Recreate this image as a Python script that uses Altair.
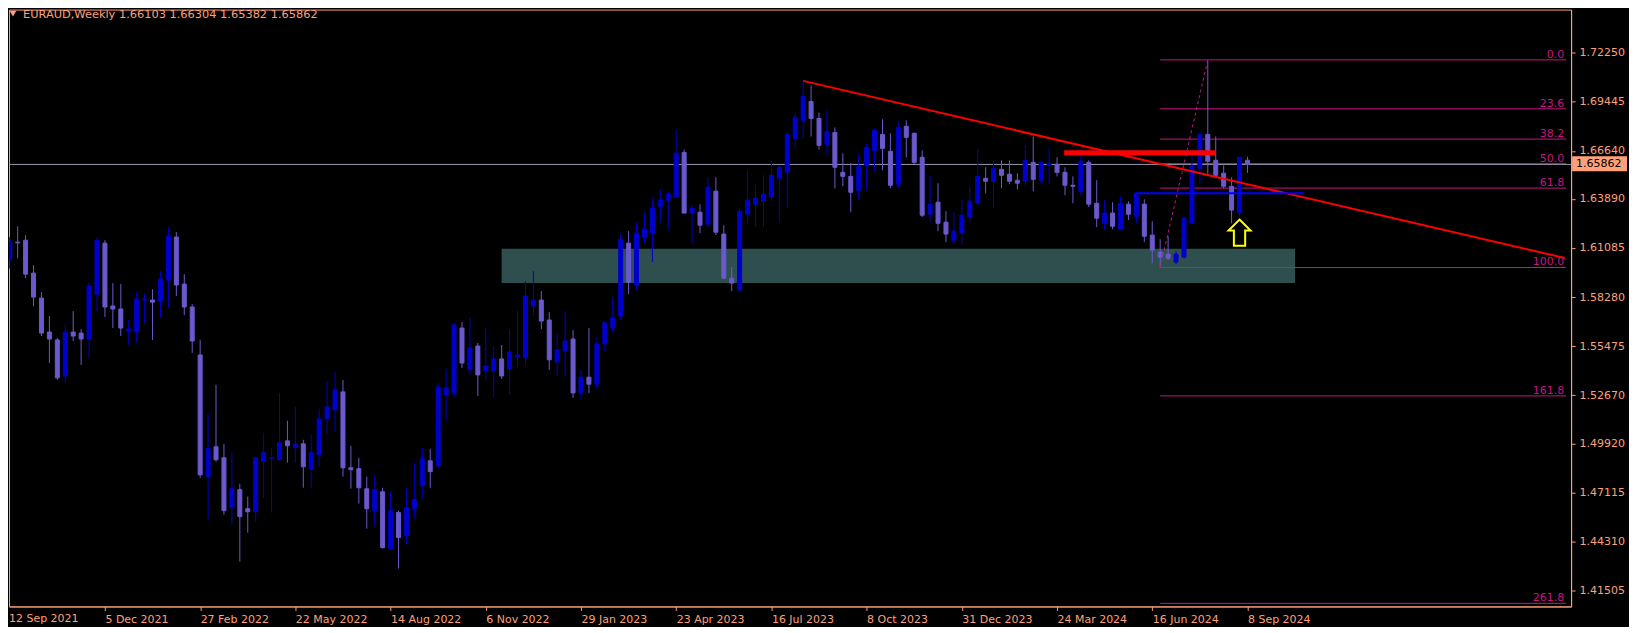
import altair as alt
import pandas as pd

base = pd.Timestamp("2021-09-12")
dates = pd.date_range(base, periods=157, freq="7D")

opens = [1.6046, 1.6142, 1.6153, 1.5965, 1.5822, 1.5628, 1.5583, 1.5377, 1.5628, 1.5622,
         1.5588, 1.5845, 1.6136, 1.5777, 1.5760, 1.5634, 1.5628, 1.5811, 1.5811, 1.5805,
         1.5925, 1.6171, 1.5902, 1.5771, 1.5497, 1.4801, 1.4972, 1.4909, 1.4624, 1.4727,
         1.4618, 1.4601, 1.4887, 1.4907, 1.4898, 1.5006, 1.4966, 1.4989, 1.4847, 1.4926,
         1.5132, 1.5183, 1.5286, 1.4852, 1.4847, 1.4732, 1.4607, 1.4715, 1.4390, 1.4596,
         1.4464, 1.4618, 1.4750, 1.4892, 1.4864, 1.5269, 1.5280, 1.5651, 1.5412, 1.5548,
         1.5406, 1.5406, 1.5474, 1.5417, 1.5486, 1.5480, 1.5777, 1.5811, 1.5697, 1.5457,
         1.5520, 1.5588, 1.5280, 1.5370, 1.5330, 1.5560, 1.5651, 1.5720, 1.6136, 1.5897,
         1.6171, 1.6193, 1.6347, 1.6382, 1.6399, 1.6655, 1.6308, 1.6313, 1.6245, 1.6433,
         1.6188, 1.5936, 1.5868, 1.6302, 1.6359, 1.6376, 1.6399, 1.6507, 1.6541, 1.6735,
         1.6838, 1.6946, 1.6849, 1.6701, 1.6769, 1.6541, 1.6518, 1.6439, 1.6581, 1.6667,
         1.6758, 1.6661, 1.6473, 1.6804, 1.6764, 1.6627, 1.6302, 1.6370, 1.6256, 1.6153,
         1.6193, 1.6285, 1.6364, 1.6507, 1.6490, 1.6558, 1.6530, 1.6496, 1.6490, 1.6598,
         1.6496, 1.6581, 1.6587, 1.6541, 1.6467, 1.6433, 1.6598, 1.6364, 1.6250, 1.6308,
         1.6216, 1.6359, 1.6290, 1.6359, 1.6182, 1.6085, 1.6073, 1.6028, 1.6056, 1.6250,
         1.6564, 1.6758, 1.6610, 1.6536, 1.6461, 1.6308, 1.66103]

highs = [1.6171, 1.6233, 1.6182, 1.6010, 1.5856, 1.5720, 1.5594, 1.5668, 1.5748, 1.5645,
         1.5913, 1.6171, 1.6153, 1.5908, 1.5902, 1.5697, 1.5856, 1.5851, 1.5873, 1.5976,
         1.6228, 1.6199, 1.5959, 1.5788, 1.5583, 1.5160, 1.5326, 1.4989, 1.4943, 1.4761,
         1.4687, 1.4915, 1.5052, 1.4966, 1.5280, 1.5121, 1.5200, 1.5012, 1.5041, 1.5189,
         1.5343, 1.5400, 1.5354, 1.4978, 1.4909, 1.4801, 1.4807, 1.4738, 1.4715, 1.4607,
         1.4738, 1.4881, 1.4966, 1.4961, 1.5337, 1.5417, 1.5685, 1.5685, 1.5708, 1.5566,
         1.5651, 1.5548, 1.5554, 1.5645, 1.5748, 1.5919, 1.5976, 1.5862, 1.5742, 1.5622,
         1.5748, 1.5640, 1.5410, 1.5651, 1.5600, 1.5691, 1.5828, 1.6188, 1.6205, 1.6256,
         1.6313, 1.6393, 1.6444, 1.6433, 1.6786, 1.6672, 1.6353, 1.6359, 1.6513, 1.6513,
         1.6239, 1.5999, 1.6336, 1.6553, 1.6467, 1.6524, 1.6604, 1.6581, 1.6769, 1.6883,
         1.7061, 1.7038, 1.6883, 1.6895, 1.6798, 1.6650, 1.6593, 1.6644, 1.6707, 1.6792,
         1.6844, 1.6764, 1.6832, 1.6838, 1.6769, 1.6667, 1.6518, 1.6479, 1.6319, 1.6313,
         1.6382, 1.6461, 1.6672, 1.6570, 1.6604, 1.6610, 1.6610, 1.6536, 1.6695, 1.6746,
         1.6610, 1.6678, 1.6627, 1.6570, 1.6518, 1.6672, 1.6610, 1.6496, 1.6382, 1.6370,
         1.6404, 1.6376, 1.6416, 1.6387, 1.6262, 1.6159, 1.6176, 1.6090, 1.6285, 1.6644,
         1.6769, 1.7180, 1.6746, 1.6581, 1.6513, 1.6627, 1.66304]

lows = [1.5991, 1.6050, 1.5936, 1.5777, 1.5605, 1.5451, 1.5355, 1.5337, 1.5577, 1.5440,
        1.5486, 1.5748, 1.5714, 1.5651, 1.5605, 1.5554, 1.5566, 1.5674, 1.5583, 1.5708,
        1.5771, 1.5834, 1.5725, 1.5509, 1.4795, 1.4556, 1.4887, 1.4584, 1.4527, 1.4316,
        1.4481, 1.4544, 1.4681, 1.4596, 1.4892, 1.4881, 1.4881, 1.4738, 1.4733, 1.4858,
        1.5041, 1.5058, 1.4801, 1.4733, 1.4647, 1.4504, 1.4521, 1.4390, 1.4390, 1.4276,
        1.4413, 1.4561, 1.4676, 1.4738, 1.4847, 1.5121, 1.5257, 1.5423, 1.5383, 1.5263,
        1.5355, 1.5252, 1.5360, 1.5269, 1.5429, 1.5440, 1.5720, 1.5645, 1.5412, 1.5377,
        1.5372, 1.5252, 1.5240, 1.5280, 1.5300, 1.5520, 1.5622, 1.5697, 1.5845, 1.5868,
        1.6136, 1.6028, 1.6256, 1.6216, 1.6399, 1.6308, 1.6131, 1.6193, 1.6222, 1.6182,
        1.5931, 1.5862, 1.5862, 1.6250, 1.6233, 1.6228, 1.6376, 1.6256, 1.6336, 1.6678,
        1.6735, 1.6746, 1.6672, 1.6644, 1.6450, 1.6461, 1.6313, 1.6387, 1.6439, 1.6547,
        1.6553, 1.6450, 1.6450, 1.6627, 1.6587, 1.6285, 1.6262, 1.6205, 1.6142, 1.6136,
        1.6125, 1.6256, 1.6347, 1.6421, 1.6342, 1.6450, 1.6473, 1.6444, 1.6467, 1.6433,
        1.6473, 1.6473, 1.6518, 1.6410, 1.6364, 1.6410, 1.6342, 1.6228, 1.6210, 1.6216,
        1.6210, 1.6268, 1.6250, 1.6142, 1.6022, 1.5999, 1.6039, 1.6016, 1.6050, 1.6250,
        1.6473, 1.6530, 1.6513, 1.6450, 1.6250, 1.6285, 1.65382]

closes = [1.6142, 1.6138, 1.5959, 1.5828, 1.5622, 1.5588, 1.5366, 1.5628, 1.5605, 1.5588,
          1.5891, 1.6153, 1.5771, 1.5760, 1.5651, 1.5645, 1.5817, 1.5817, 1.5799, 1.5931,
          1.6176, 1.5897, 1.5771, 1.5577, 1.4812, 1.4961, 1.4898, 1.4607, 1.4732, 1.4573,
          1.4601, 1.4909, 1.4938, 1.4909, 1.4995, 1.4978, 1.4989, 1.4858, 1.4938, 1.5132,
          1.5200, 1.5297, 1.4852, 1.4841, 1.4738, 1.4618, 1.4727, 1.4396, 1.4607, 1.4453,
          1.4624, 1.4670, 1.4904, 1.4830, 1.5314, 1.5309, 1.5668, 1.5451, 1.5537, 1.5383,
          1.5434, 1.5474, 1.5377, 1.5514, 1.5497, 1.5834, 1.5811, 1.5691, 1.5469, 1.5526,
          1.5577, 1.5280, 1.5370, 1.5330, 1.5560, 1.5680, 1.5708, 1.6159, 1.5913, 1.6193,
          1.6216, 1.6336, 1.6382, 1.6416, 1.6650, 1.6308, 1.6336, 1.6239, 1.6456, 1.6199,
          1.5936, 1.5908, 1.6319, 1.6382, 1.6393, 1.6416, 1.6524, 1.6570, 1.6758, 1.6855,
          1.6975, 1.6849, 1.6695, 1.6775, 1.6570, 1.6518, 1.6427, 1.6575, 1.6684, 1.6781,
          1.6678, 1.6467, 1.6798, 1.6741, 1.6598, 1.6296, 1.6359, 1.6250, 1.6188, 1.6205,
          1.6296, 1.6376, 1.6518, 1.6490, 1.6564, 1.6524, 1.6490, 1.6479, 1.6610, 1.6501,
          1.6598, 1.6593, 1.6541, 1.6467, 1.6461, 1.6604, 1.6359, 1.6279, 1.6308, 1.6233,
          1.6364, 1.6302, 1.6410, 1.6176, 1.6096, 1.6056, 1.6050, 1.6073, 1.6279, 1.6575,
          1.6758, 1.6604, 1.6524, 1.6461, 1.6325, 1.6627, 1.65862]

y_ticks = [1.72250, 1.69445, 1.66640, 1.63890, 1.61085, 1.58280,
           1.55475, 1.52670, 1.49920, 1.47115, 1.44310, 1.41505]
first_date_label = "12 Sep 2021"

fib_levels = ["0.0", "23.6", "38.2", "50.0", "61.8", "100.0", "161.8", "261.8"]
fib_prices = [1.7184, 1.6904, 1.6731, 1.6591, 1.6451, 1.5997, 1.5263, 1.4077]
fib_start_week = 145
fib_anchor_weeks = [145, 151]
fib_anchor_prices = [1.5997, 1.7184]

zone_weeks = [62, 162]
zone_prices = [1.6104, 1.5908]
trend_weeks = [100, 196]
trend_prices = [1.7064, 1.6051]
resist_weeks = [132.9, 151.9]
resist_price = 1.6653
support_weeks = [141.8, 163.1]
support_price = 1.6421
support_tick_low = 1.6395
arrow_week = 155
arrow_price = 1.6196
last_price = 1.65862
price_box = [1.6633, 1.6547]
title_text = "EURAUD,Weekly  1.66103 1.66304 1.65382 1.65862"

# ---------------------------------------------------------------
W, H = 1565, 598
SALMON = "#FFA07A"
FIB = "#C71585"
FONT = "DejaVu Sans"
UP, DOWN = "#0000CD", "#6A5ACD"


def wk(w):
    return base + pd.Timedelta(days=7 * w)


def dt(ts):
    return alt.DateTime(year=ts.year, month=ts.month, date=ts.day,
                        hours=ts.hour, minutes=ts.minute)


x_start = wk(0.5375)
x_end = wk(0.5375 + W / 8.0)
x_scale = alt.Scale(domain=[dt(x_start), dt(x_end)], nice=False)
y_scale = alt.Scale(domain=[1.40592, 1.74715], zero=False, nice=False)

tick_dates = pd.date_range(wk(12), periods=13, freq="84D")

x_axis = alt.Axis(values=[dt(t) for t in tick_dates], format="%-d %b %Y",
                  labelAlign="left", labelBaseline="top", labelPadding=3,
                  tickSize=4, labelFlush=False, labelOverlap=False,
                  grid=False, title=None)
y_axis = alt.Axis(orient="right", values=y_ticks, format=".5f", tickSize=4,
                  labelPadding=4, labelBaseline="middle", grid=False,
                  title=None, labelOverlap=False, labelFlush=False)

df = pd.DataFrame({"date": dates, "open": opens, "high": highs,
                   "low": lows, "close": closes})
df["dir"] = ["up" if c >= o else "down" for o, c in zip(opens, closes)]
dir_scale = alt.Scale(domain=["up", "down"], range=[UP, DOWN])

X = lambda f: alt.X(f, scale=x_scale, title=None)
Y = lambda f: alt.Y(f, scale=y_scale, title=None)

zone = alt.Chart(pd.DataFrame({"x1": [wk(zone_weeks[0])], "x2": [wk(zone_weeks[1])],
                               "y1": [zone_prices[0]], "y2": [zone_prices[1]]})
                 ).mark_rect(color="#2F4F4F", clip=True).encode(
    x=X("x1:T"), x2="x2:T", y=Y("y1:Q"), y2="y2:Q")

price_rule = alt.Chart(pd.DataFrame({"p": [last_price]})).mark_rule(
    color="#9A9AAE", strokeWidth=1).encode(y=Y("p:Q"))

fib_df = pd.DataFrame({"level": fib_levels, "price": fib_prices,
                       "x1": [wk(fib_start_week)] * len(fib_levels),
                       "x2": [x_end] * len(fib_levels)})
fib_rules = alt.Chart(fib_df).mark_rule(color=FIB, strokeWidth=1, clip=True).encode(
    x=X("x1:T"), x2="x2:T", y=Y("price:Q"))
fib_text = alt.Chart(fib_df).mark_text(
    align="right", baseline="alphabetic", dx=-2, dy=-2, color=FIB,
    font=FONT, fontSize=11).encode(x=X("x2:T"), y=Y("price:Q"), text="level:N")

wicks = alt.Chart(df).mark_rule(strokeWidth=1, clip=True).encode(
    x=alt.X("date:T", scale=x_scale, axis=x_axis, title=None),
    y=alt.Y("low:Q", scale=y_scale, axis=y_axis, title=None),
    y2="high:Q",
    color=alt.Color("dir:N", scale=dir_scale, legend=None))

bodies = alt.Chart(df).mark_bar(size=4, strokeWidth=1, clip=True).encode(
    x=X("date:T"), y=Y("open:Q"), y2="close:Q",
    fill=alt.Fill("dir:N", scale=dir_scale, legend=None),
    stroke=alt.Stroke("dir:N", scale=dir_scale, legend=None))

trend = alt.Chart(pd.DataFrame({"x1": [wk(trend_weeks[0])], "x2": [wk(trend_weeks[1])],
                                "y1": [trend_prices[0]], "y2": [trend_prices[1]]})
                  ).mark_rule(color="#FF0000", strokeWidth=2, clip=True).encode(
    x=X("x1:T"), x2="x2:T", y=Y("y1:Q"), y2="y2:Q")

resist = alt.Chart(pd.DataFrame({"x1": [wk(resist_weeks[0])], "x2": [wk(resist_weeks[1])],
                                 "y1": [resist_price]})
                   ).mark_rule(color="#FF0000", strokeWidth=5).encode(
    x=X("x1:T"), x2="x2:T", y=Y("y1:Q"))

support = alt.Chart(pd.DataFrame({"x1": [wk(support_weeks[0])], "x2": [wk(support_weeks[1])],
                                  "y1": [support_price]})
                    ).mark_rule(color="#0000FF", strokeWidth=2).encode(
    x=X("x1:T"), x2="x2:T", y=Y("y1:Q"))
support_tick = alt.Chart(pd.DataFrame({"x1": [wk(support_weeks[0])],
                                       "y1": [support_price], "y2": [support_tick_low]})
                         ).mark_rule(color="#0000FF", strokeWidth=2).encode(
    x=X("x1:T"), y=Y("y1:Q"), y2="y2:Q")

fib_dash = alt.Chart(pd.DataFrame({"x1": [wk(fib_anchor_weeks[0])], "x2": [wk(fib_anchor_weeks[1])],
                                   "y1": [fib_anchor_prices[0]], "y2": [fib_anchor_prices[1]]})
                     ).mark_rule(color=FIB, strokeWidth=1, strokeDash=[3, 3]).encode(
    x=X("x1:T"), x2="x2:T", y=Y("y1:Q"), y2="y2:Q")

ARROW = "M0,-1L0.84,-0.16L0.43,-0.16L0.43,1L-0.43,1L-0.43,-0.16L-0.84,-0.16Z"
arrow = alt.Chart(pd.DataFrame({"x": [wk(arrow_week)], "y": [arrow_price]})).mark_point(
    shape=ARROW, size=690, filled=True, fill="#000000", stroke="#FFFF00",
    strokeWidth=2, opacity=1).encode(x=X("x:T"), y=Y("y:Q"))

box = alt.Chart(pd.DataFrame({"a": [price_box[0]], "b": [price_box[1]]})).mark_rect(
    color=SALMON).encode(x=alt.value(W + 1), x2=alt.value(W + 56),
                         y=Y("a:Q"), y2="b:Q")
box_text = alt.Chart(pd.DataFrame({"p": [last_price], "t": ["%.5f" % last_price]})).mark_text(
    align="left", baseline="middle", color="#000000", font=FONT, fontSize=11).encode(
    x=alt.value(W + 5), y=Y("p:Q"), text="t:N")

first_label = alt.Chart(pd.DataFrame({"t": [first_date_label]})).mark_text(
    align="left", baseline="top", color=SALMON, font=FONT, fontSize=11).encode(
    x=alt.value(0), y=alt.value(H + 7), text="t:N")

tri = alt.Chart(pd.DataFrame({"t": [1]})).mark_point(
    shape="triangle-down", filled=True, size=45, color=SALMON, opacity=1).encode(
    x=alt.value(4), y=alt.value(4))
title = alt.Chart(pd.DataFrame({"t": [title_text]})).mark_text(
    align="left", baseline="middle", color=SALMON, font=FONT, fontSize=11.4).encode(
    x=alt.value(14), y=alt.value(5), text="t:N")

chart = alt.layer(
    zone, price_rule, fib_rules, wicks, bodies, trend, resist, support,
    support_tick, fib_dash, fib_text, arrow, box, box_text, first_label, tri, title
).properties(
    width=W, height=H, background="#000000",
    padding={"left": 0, "top": 0, "right": 2, "bottom": 2}
).configure_view(
    stroke=SALMON, strokeWidth=1, fill="#000000"
).configure_axis(
    labelColor=SALMON, tickColor=SALMON, domainColor=SALMON,
    labelFont=FONT, labelFontSize=11, domainWidth=1, tickWidth=1
)

chart.save("out.html", embed_options={"renderer": "svg", "actions": False})
